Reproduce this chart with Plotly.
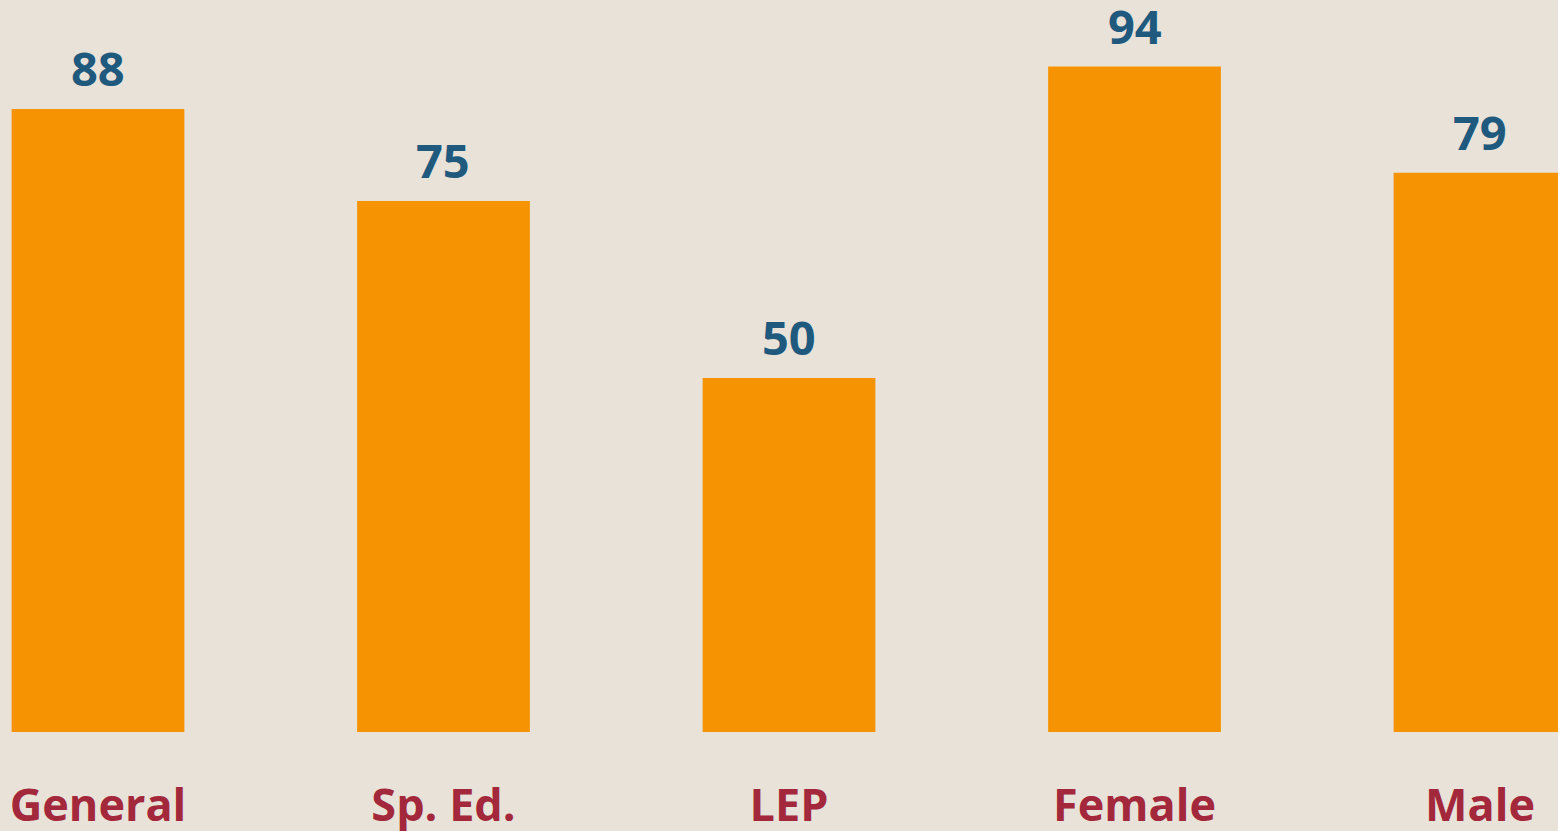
import plotly.graph_objects as go

categories = ["General", "Sp. Ed.", "LEP", "Female", "Male"]
values = [88, 75, 50, 94, 79]

x_pos = list(range(len(categories)))

fig = go.Figure()
fig.add_trace(go.Bar(
    x=x_pos, y=values, width=0.5,
    marker=dict(color="#F59302", line=dict(width=0)),
    hoverinfo="skip",
))

for x, v in zip(x_pos, values):
    fig.add_annotation(x=x, y=v, text=f"<b>{v}</b>", showarrow=False,
                       yanchor="bottom", yshift=7,
                       font=dict(family="Open Sans", size=47, color="#1F5A7E"))

fig.update_layout(
    width=1558, height=831,
    margin=dict(l=0, r=0, t=0, b=99),
    paper_bgcolor="#E8E2D9", plot_bgcolor="#E8E2D9",
    showlegend=False,
    bargap=0.5,
    xaxis=dict(range=[-0.2836, 4.2257], tickvals=x_pos,
               ticktext=[f"<b>{c}</b>" for c in categories],
               showgrid=False, zeroline=False, showline=False, ticks="",
               ticklabelstandoff=43, automargin=False,
               tickfont=dict(family="Open Sans", size=45, color="#A3283B")),
    yaxis=dict(range=[0, 103.4], visible=False, showgrid=False, automargin=False),
)

fig.write_html("out.html", config={"displayModeBar": False},
               post_script="document.body.style.margin='0';document.body.style.background='#E8E2D9';")
